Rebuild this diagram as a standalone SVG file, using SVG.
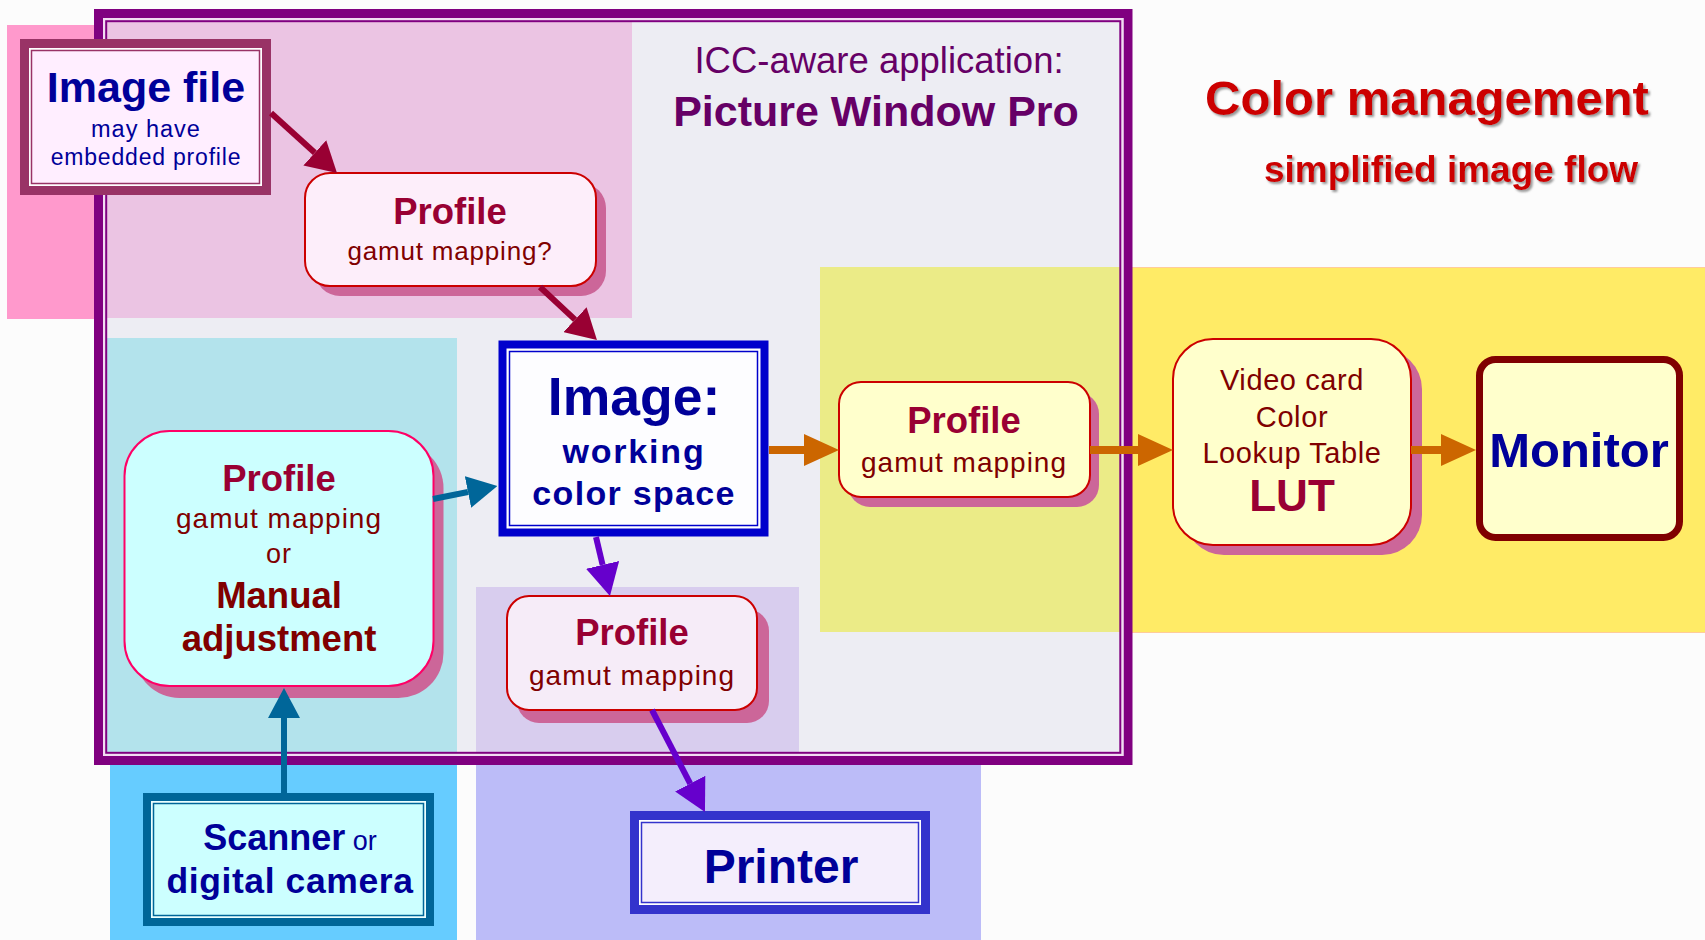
<svg xmlns="http://www.w3.org/2000/svg" width="1705" height="940" viewBox="0 0 1705 940">
  <defs>
    <style>
      text { font-family: "Liberation Sans", Arial, sans-serif; text-anchor: middle; }
      .b { font-weight: bold; }
      .navy { fill: #000099; }
      .crim { fill: #990033; }
      .maroon { fill: #800000; }
      .purp { fill: #660066; }
      .title { fill: #cc0000; font-weight: bold; filter: url(#soft-shadow); }
      .shadow { fill: #cc6699; }
      .rbox { stroke: #cc0000; stroke-width: 2; }
      .conn { fill: none; }
    </style>
    <filter id="soft-shadow" x="-5%" y="-20%" width="110%" height="150%">
      <feDropShadow dx="2" dy="2" stdDeviation="1.2" flood-color="#777777" flood-opacity="0.75"/>
    </filter>
    <marker id="ah-red" markerUnits="userSpaceOnUse" viewBox="0 0 30 34" refX="0" refY="17" markerWidth="30" markerHeight="34" orient="auto">
      <path d="M0,0 L30,17 L0,34 z" fill="#990033"/>
    </marker>
    <marker id="ah-teal" markerUnits="userSpaceOnUse" viewBox="0 0 30 32" refX="0" refY="16" markerWidth="30" markerHeight="32" orient="auto">
      <path d="M0,0 L30,16 L0,32 z" fill="#006699"/>
    </marker>
    <marker id="ah-purple" markerUnits="userSpaceOnUse" viewBox="0 0 32 34" refX="0" refY="17" markerWidth="32" markerHeight="34" orient="auto">
      <path d="M0,0 L32,17 L0,34 z" fill="#6600cc"/>
    </marker>
    <marker id="ah-orange" markerUnits="userSpaceOnUse" viewBox="0 0 35 32" refX="0" refY="16" markerWidth="35" markerHeight="32" orient="auto">
      <path d="M0,0 L35,16 L0,32 z" fill="#cc6600"/>
    </marker>
  </defs>

  <!-- page -->
  <rect x="0" y="0" width="1705" height="940" fill="#fcfcfc"/>

  <!-- coloured zones outside the application frame -->
  <g id="outer-zones">
    <rect x="7" y="25" width="90" height="294" fill="#ff99cc"/>
    <rect x="1130" y="267" width="575" height="366" fill="#ffeb66"/>
    <line x1="1130" y1="267.5" x2="1705" y2="267.5" stroke="#ffcc99" stroke-width="1"/>
    <line x1="1130" y1="632.5" x2="1705" y2="632.5" stroke="#ffcc99" stroke-width="1"/>
    <rect x="110" y="760" width="347" height="180" fill="#66ccff"/>
    <rect x="476" y="760" width="505" height="180" fill="#bcbcf8"/>
  </g>

  <!-- application frame -->
  <g id="app-frame">
    <rect x="98.5" y="13.5" width="1029.5" height="747" fill="#ededf3" stroke="#800080" stroke-width="9"/>
    <rect x="104.1" y="19.1" width="1018.3" height="735.8" fill="none" stroke="#f2dcf2" stroke-width="2.2"/>
    <!-- zones inside the frame -->
    <rect x="107" y="22" width="525" height="296" fill="#ebc4e3"/>
    <rect x="107" y="338" width="350" height="414" fill="#b3e3ec"/>
    <rect x="820" y="267" width="300" height="365" fill="#ebeb87"/>
    <rect x="476" y="587" width="323" height="165" fill="#d8cdee"/>
    <rect x="106.2" y="21.2" width="1014.1" height="731.6" fill="none" stroke="#800080" stroke-width="2"/>
    <text x="879" y="73" font-size="36.5" class="purp">ICC-aware application:</text>
    <text x="876" y="126" font-size="43" class="b purp">Picture Window Pro</text>
  </g>

  <!-- headline -->
  <g id="headline">
    <text x="1427" y="115" font-size="49" class="title">Color management</text>
    <text x="1451" y="182" font-size="37" class="title">simplified image flow</text>
  </g>

  <!-- nodes -->
  <g id="image-file">
    <rect x="24.5" y="43.5" width="242" height="147" fill="#ffffff" stroke="#993366" stroke-width="9"/>
    <rect x="31.5" y="50.5" width="228" height="133" fill="#ffeeff" stroke="#993366" stroke-width="1.5"/>
    <text x="146" y="102" font-size="43" class="b navy">Image file</text>
    <text x="146" y="137" font-size="23.5" letter-spacing="1" class="navy">may have</text>
    <text x="146" y="165" font-size="23" letter-spacing="0.8" class="navy">embedded profile</text>
  </g>

  <g id="profile-input">
    <rect x="315" y="183" width="291" height="113" rx="25" class="shadow"/>
    <rect x="305" y="173" width="291" height="113" rx="25" fill="#fdeefa" class="rbox"/>
    <text x="450" y="224" font-size="36.5" class="b crim">Profile</text>
    <text x="450" y="260" font-size="26" letter-spacing="0.8" class="maroon">gamut mapping?</text>
  </g>

  <g id="image-working">
    <rect x="502.5" y="344.5" width="262" height="188" fill="#ffffff" stroke="#0000cc" stroke-width="8"/>
    <rect x="509.5" y="351.5" width="248" height="174" fill="#fdfdff" stroke="#0000cc" stroke-width="1.5"/>
    <text x="634" y="415" font-size="53.5" class="b navy">Image:</text>
    <text x="634" y="463" font-size="34" letter-spacing="1.8" class="b navy">working</text>
    <text x="634" y="505" font-size="34" letter-spacing="1.3" class="b navy">color space</text>
  </g>

  <g id="profile-scan">
    <rect x="134.5" y="443" width="309" height="255" rx="45" class="shadow"/>
    <rect x="124.5" y="431" width="309" height="255" rx="45" fill="#ccffff" stroke="#ff0066" stroke-width="2"/>
    <text x="279" y="491" font-size="36.5" class="b crim">Profile</text>
    <text x="279" y="528" font-size="28" letter-spacing="1" class="maroon">gamut mapping</text>
    <text x="279" y="563" font-size="27" letter-spacing="1" class="maroon">or</text>
    <text x="279" y="608" font-size="36.5" class="b maroon">Manual</text>
    <text x="279" y="651" font-size="36.5" class="b maroon">adjustment</text>
  </g>

  <g id="scanner">
    <rect x="147" y="797" width="283" height="125" fill="#eaffff" stroke="#006699" stroke-width="8"/>
    <rect x="153.5" y="803.5" width="270" height="112" fill="#ccffff" stroke="#006699" stroke-width="1.5"/>
    <text x="290" y="850" class="navy"><tspan font-size="36" class="b">Scanner</tspan><tspan font-size="27"> or</tspan></text>
    <text x="290" y="893" font-size="35.5" letter-spacing="0.6" class="b navy">digital camera</text>
  </g>

  <g id="profile-print">
    <rect x="517" y="609" width="252" height="114" rx="22" class="shadow"/>
    <rect x="507" y="596" width="250" height="114" rx="22" fill="#f6ecf8" class="rbox"/>
    <text x="632" y="645" font-size="36.5" class="b crim">Profile</text>
    <text x="632" y="685" font-size="28" letter-spacing="1" class="maroon">gamut mapping</text>
  </g>

  <g id="printer">
    <rect x="634.5" y="815.5" width="291" height="94" fill="#ffffff" stroke="#3333cc" stroke-width="9"/>
    <rect x="641.5" y="822.5" width="277" height="80" fill="#f4eefc" stroke="#3333cc" stroke-width="1.5"/>
    <text x="781" y="883" font-size="48" class="b navy">Printer</text>
  </g>

  <g id="profile-display">
    <rect x="848" y="392" width="251" height="115" rx="22" class="shadow"/>
    <rect x="839" y="382" width="251" height="115" rx="22" fill="#ffffcc" class="rbox"/>
    <text x="964" y="433" font-size="36.5" class="b crim">Profile</text>
    <text x="964" y="472" font-size="28" letter-spacing="1" class="maroon">gamut mapping</text>
  </g>

  <g id="video-lut">
    <rect x="1184" y="349" width="238" height="206" rx="40" class="shadow"/>
    <rect x="1173" y="339" width="238" height="206" rx="40" fill="#ffffcc" class="rbox"/>
    <text x="1292" y="390" font-size="29" letter-spacing="0.6" class="maroon">Video card</text>
    <text x="1292" y="427" font-size="29" letter-spacing="0.6" class="maroon">Color</text>
    <text x="1292" y="463" font-size="29" letter-spacing="0.6" class="maroon">Lookup Table</text>
    <text x="1292" y="511" font-size="44" class="b crim">LUT</text>
  </g>

  <g id="monitor">
    <rect x="1479.5" y="359.5" width="200" height="178" rx="16" fill="#ffffcc" stroke="#800000" stroke-width="7"/>
    <text x="1579" y="467" font-size="49" class="b navy">Monitor</text>
  </g>

  <!-- connectors -->
  <g id="connectors" class="conn">
    <path d="M271,113 L314.8,152.8" stroke="#990033" stroke-width="6" marker-end="url(#ah-red)"/>
    <path d="M540,287 L575,319.6" stroke="#990033" stroke-width="6" marker-end="url(#ah-red)"/>
    <path d="M433,499 L468,492" stroke="#006699" stroke-width="6" marker-end="url(#ah-teal)"/>
    <path d="M284,793 L284,718" stroke="#006699" stroke-width="6" marker-end="url(#ah-teal)"/>
    <path d="M596,537 L602.6,564.9" stroke="#6600cc" stroke-width="6" marker-end="url(#ah-purple)"/>
    <path d="M652,710 L690.2,783.6" stroke="#6600cc" stroke-width="6" marker-end="url(#ah-purple)"/>
    <path d="M769,450 L804,450" stroke="#cc6600" stroke-width="8" marker-end="url(#ah-orange)"/>
    <path d="M1090,450 L1138,450" stroke="#cc6600" stroke-width="8" marker-end="url(#ah-orange)"/>
    <path d="M1411,450 L1441,450" stroke="#cc6600" stroke-width="8" marker-end="url(#ah-orange)"/>
  </g>
</svg>
